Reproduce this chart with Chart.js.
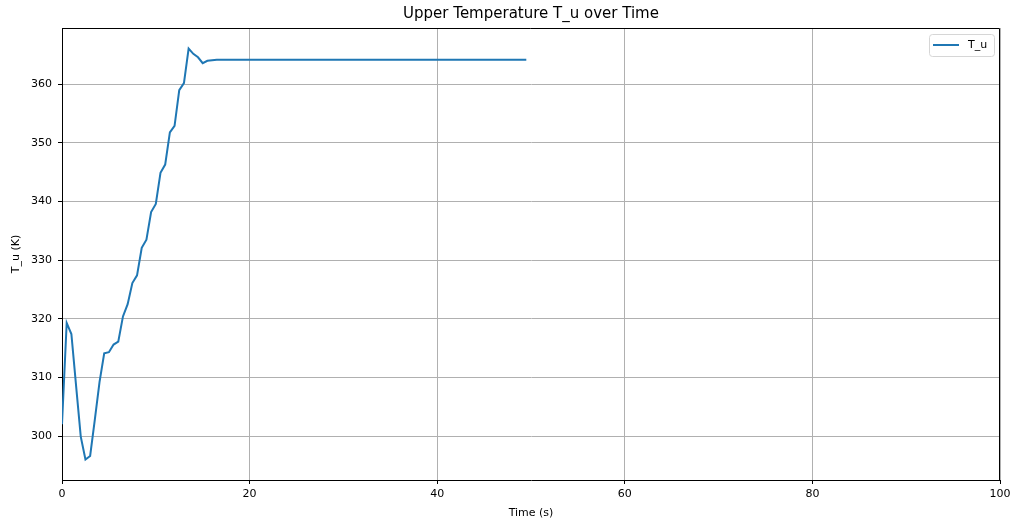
<!DOCTYPE html>
<html>
<head>
<meta charset="utf-8">
<script src="https://cdn.jsdelivr.net/npm/chart.js@4.4.0/dist/chart.umd.min.js"></script>
<style>
  body { margin: 0; background: #fff; }
  #wrap { width: 1012px; height: 520px; }
</style>
</head>
<body>
<div id="wrap"><canvas id="tempChart" width="1012" height="520"></canvas></div>
<script>
// time samples (s)
const times = [
  0, 0.5, 1, 1.5, 2, 2.5, 3, 3.5, 4, 4.5, 5, 5.5, 6, 6.5, 7, 7.5, 8, 8.5, 9, 9.5,
  10, 10.5, 11, 11.5, 12, 12.5, 13, 13.5, 14, 14.5, 15, 15.5, 16, 16.5, 17, 17.5, 18, 18.5, 19, 19.5,
  20, 20.5, 21, 21.5, 22, 22.5, 23, 23.5, 24, 24.5, 25, 25.5, 26, 26.5, 27, 27.5, 28, 28.5, 29, 29.5,
  30, 30.5, 31, 31.5, 32, 32.5, 33, 33.5, 34, 34.5, 35, 35.5, 36, 36.5, 37, 37.5, 38, 38.5, 39, 39.5,
  40, 40.5, 41, 41.5, 42, 42.5, 43, 43.5, 44, 44.5, 45, 45.5, 46, 46.5, 47, 47.5, 48, 48.5, 49, 49.5
];

// upper temperature T_u (K)
const tempU = [
  302.0, 319.3, 317.4, 308.6, 299.9, 296.0, 296.6, 302.8, 309.2, 314.1,
  314.3, 315.6, 316.1, 320.4, 322.5, 326.1, 327.4, 332.1, 333.5, 338.2,
  339.6, 344.9, 346.3, 351.8, 352.9, 359.0, 360.2, 366.1, 365.2, 364.6,
  363.6, 364.0, 364.1, 364.2, 364.2, 364.2, 364.2, 364.2, 364.2, 364.2,
  364.2, 364.2, 364.2, 364.2, 364.2, 364.2, 364.2, 364.2, 364.2, 364.2,
  364.2, 364.2, 364.2, 364.2, 364.2, 364.2, 364.2, 364.2, 364.2, 364.2,
  364.2, 364.2, 364.2, 364.2, 364.2, 364.2, 364.2, 364.2, 364.2, 364.2,
  364.2, 364.2, 364.2, 364.2, 364.2, 364.2, 364.2, 364.2, 364.2, 364.2,
  364.2, 364.2, 364.2, 364.2, 364.2, 364.2, 364.2, 364.2, 364.2, 364.2,
  364.2, 364.2, 364.2, 364.2, 364.2, 364.2, 364.2, 364.2, 364.2, 364.2
];

const xTicks = [0, 20, 40, 60, 80, 100];
const yTicks = [300, 310, 320, 330, 340, 350, 360];

const LINE_COLOR = '#1f77b4';
const FONT = 'DejaVu Sans';

// top/right spines and the legend box in the upper right corner
const framePlugin = {
  id: 'frame',
  afterDraw(chart) {
    const { ctx, chartArea: a } = chart;
    ctx.save();
    ctx.strokeStyle = '#000';
    ctx.lineWidth = 1;
    ctx.beginPath();
    ctx.moveTo(a.left, a.top + 0.5);
    ctx.lineTo(a.right - 0.5, a.top + 0.5);
    ctx.lineTo(a.right - 0.5, a.bottom);
    ctx.stroke();

    const bx = a.right - 71, by = a.top + 6, bw = 65, bh = 22;
    ctx.fillStyle = 'rgba(255,255,255,0.8)';
    ctx.strokeStyle = '#d6d6d6';
    ctx.beginPath();
    ctx.roundRect(bx + 0.5, by + 0.5, bw, bh, 3);
    ctx.fill();
    ctx.stroke();

    ctx.strokeStyle = LINE_COLOR;
    ctx.lineWidth = 2;
    ctx.beginPath();
    ctx.moveTo(bx + 4, by + 11);
    ctx.lineTo(bx + 30, by + 11);
    ctx.stroke();

    ctx.fillStyle = '#000';
    ctx.font = '11px "' + FONT + '"';
    ctx.textBaseline = 'middle';
    ctx.fillText('T_u', bx + 39, by + 11.5);
    ctx.restore();
  }
};

new Chart(document.getElementById('tempChart').getContext('2d'), {
  type: 'line',
  data: {
    datasets: [{
      label: 'T_u',
      data: times.map((t, i) => ({ x: t, y: tempU[i] })),
      borderColor: LINE_COLOR,
      borderWidth: 2,
      pointRadius: 0,
      fill: false,
      tension: 0
    }]
  },
  options: {
    responsive: false,
    animation: false,
    layout: { padding: { top: 0, right: 12, bottom: 0, left: 0 } },
    plugins: {
      legend: { display: false },
      tooltip: { enabled: false },
      title: {
        display: true,
        fullSize: false,
        text: 'Upper Temperature T_u over Time',
        color: '#000',
        font: { family: FONT, size: 15, weight: 'normal', lineHeight: 1.2 },
        padding: { top: 5, bottom: 5 }
      }
    },
    scales: {
      x: {
        type: 'linear',
        min: 0,
        max: 100,
        afterBuildTicks: s => { s.ticks = xTicks.map(v => ({ value: v })); },
        afterFit: s => {
          s.height = 40;
          s.paddingLeft = 0;
          s.paddingRight = 0;
        },
        ticks: { color: '#000', font: { family: FONT, size: 11 }, padding: 4, maxRotation: 0 },
        grid: { color: '#b0b0b0', lineWidth: 1, tickLength: 4, tickColor: '#000' },
        border: { color: '#000', width: 1 },
        title: {
          display: true,
          text: 'Time (s)',
          color: '#000',
          font: { family: FONT, size: 11, lineHeight: 1.2 },
          padding: { top: 0, bottom: 0 }
        }
      },
      y: {
        min: 292.5,
        max: 369.6,
        afterBuildTicks: s => { s.ticks = yTicks.map(v => ({ value: v })); },
        afterFit: s => { s.width = 62; },
        ticks: { color: '#000', font: { family: FONT, size: 11 }, padding: 6 },
        grid: { color: '#b0b0b0', lineWidth: 1, tickLength: 4, tickColor: '#000' },
        border: { color: '#000', width: 1 },
        title: {
          display: true,
          text: 'T_u (K)',
          color: '#000',
          font: { family: FONT, size: 11, lineHeight: 1.2 },
          padding: { top: 10, bottom: 0 }
        }
      }
    }
  },
  plugins: [framePlugin]
});
</script>
</body>
</html>
